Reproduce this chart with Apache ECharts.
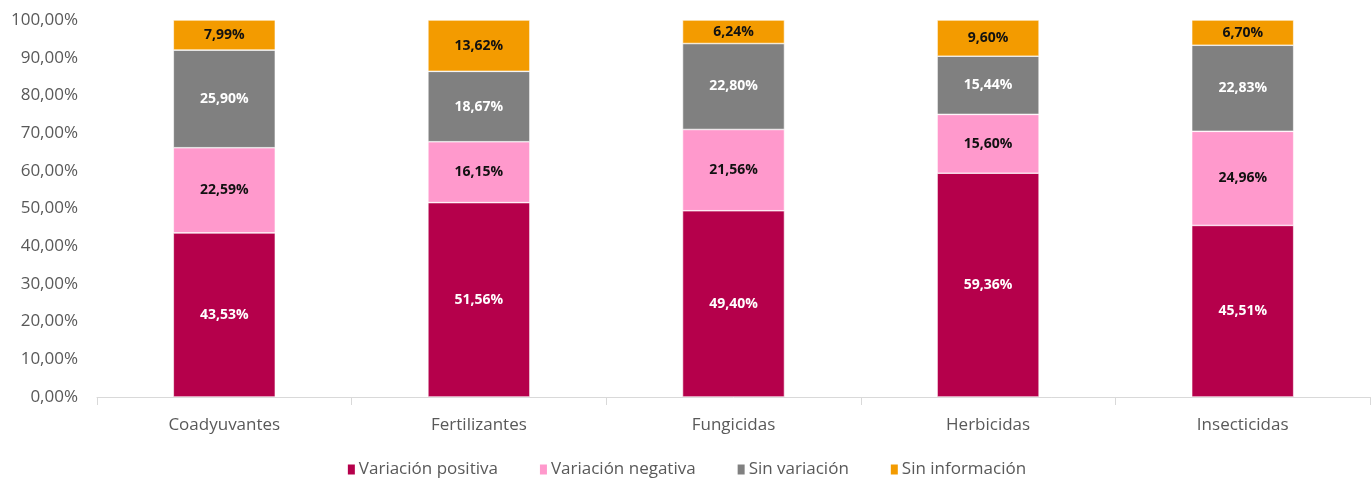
<!DOCTYPE html>
<html>
<head>
<meta charset="utf-8">
<script src="https://cdn.jsdelivr.net/npm/echarts@6/dist/echarts.min.js"></script>
<style>
  html, body { margin: 0; padding: 0; background: #fff; }
  #chart { width: 1372px; height: 478px; }
</style>
</head>
<body>
<div id="chart"></div>
<script>
var categories = ['Coadyuvantes', 'Fertilizantes', 'Fungicidas', 'Herbicidas', 'Insecticidas'];
var positiva = [43.53, 51.56, 49.40, 59.36, 45.51];
var negativa = [22.59, 16.15, 21.56, 15.60, 24.96];
var sinVariacion = [25.90, 18.67, 22.80, 15.44, 22.83];
var sinInformacion = [7.99, 13.62, 6.24, 9.60, 6.70];

var font = '"Open Sans", "Noto Sans", sans-serif';

function pct(v) {
  return v.toFixed(2).replace('.', ',') + '%';
}

function makeSeries(name, data, color, labelColor) {
  return {
    name: name,
    type: 'bar',
    stack: 'total',
    barWidth: 102,
    data: data,
    itemStyle: { color: color, borderColor: '#fff', borderWidth: 0.6 },
    label: {
      show: true,
      position: 'inside',
      color: labelColor,
      fontFamily: font,
      fontWeight: 'bold',
      fontSize: 14,
      formatter: function (p) { return pct(p.value); }
    }
  };
}

var myChart = echarts.init(document.getElementById('chart'));
var option = {
  animation: false,
  grid: { left: 97, right: 2, top: 20, bottom: 81 },
  legend: {
    top: 456,
    left: 'center',
    itemWidth: 9,
    itemHeight: 12,
    itemGap: 40,
    icon: 'rect',
    textStyle: { color: '#595959', fontSize: 17, fontFamily: font, padding: [0, 0, 0, -2] },
    data: ['Variación positiva', 'Variación negativa', 'Sin variación', 'Sin información']
  },
  xAxis: {
    type: 'category',
    data: categories,
    axisLine: { lineStyle: { color: '#d9d9d9', width: 1 } },
    axisTick: { show: true, length: 8, lineStyle: { color: '#d9d9d9' } },
    axisLabel: { color: '#595959', fontSize: 17, fontFamily: font, margin: 20 }
  },
  yAxis: {
    type: 'value',
    min: 0,
    max: 100,
    interval: 10,
    axisLine: { show: false },
    axisTick: { show: false },
    splitLine: { show: false },
    axisLabel: {
      color: '#595959',
      fontSize: 17,
      fontFamily: font,
      margin: 19,
      formatter: function (v) { return pct(v); }
    }
  },
  series: [
    makeSeries('Variación positiva', positiva, '#B5004B', '#fff'),
    makeSeries('Variación negativa', negativa, '#FF99CC', '#111'),
    makeSeries('Sin variación', sinVariacion, '#808080', '#fff'),
    makeSeries('Sin información', sinInformacion, '#F39B00', '#111')
  ]
};
myChart.setOption(option);
</script>
</body>
</html>
